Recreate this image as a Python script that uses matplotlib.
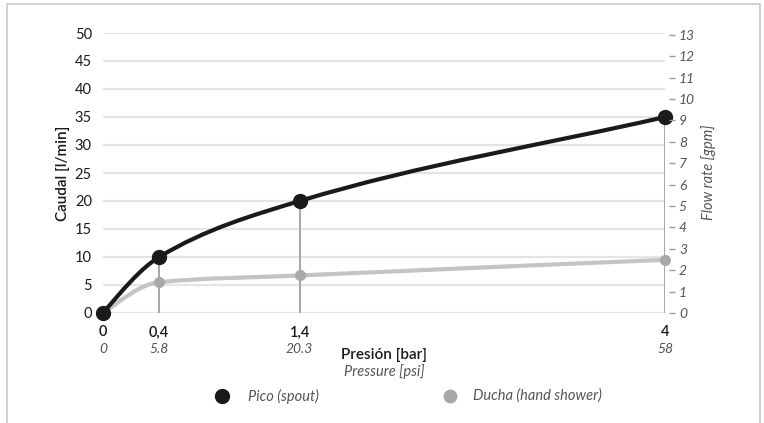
import matplotlib.pyplot as plt
import numpy as np
from matplotlib.path import Path
from matplotlib.patches import PathPatch
from matplotlib.lines import Line2D

plt.rcParams['font.family'] = ['Lato', 'DejaVu Sans']

# data
pressure_bar = [0, 0.4, 1.4, 4]
bar_labels = ['0', '0,4', '1,4', '4']
psi_labels = ['0', '5.8', '20.3', '58']
pico = [0, 10, 20, 35]
ducha = [0, 5.5, 6.7, 9.5]
gpm_ticks = list(range(0, 14))
LPM_PER_GPM = 3.82

BLACK = '#1a1a1a'
GREY_LINE = '#c4c4c4'
GREY_MARK = '#a9a9a9'
GREY_TEXT = '#555555'


def monotone_path(x, y):
    # cubic bezier path through the points (Fritsch-Carlson tangents)
    x = np.asarray(x, float)
    y = np.asarray(y, float)
    h = np.diff(x)
    d = np.diff(y) / h
    m = np.zeros_like(x)
    for k in range(1, len(x) - 1):
        if d[k - 1] * d[k] > 0:
            w1 = 2 * h[k] + h[k - 1]
            w2 = h[k] + 2 * h[k - 1]
            m[k] = (w1 + w2) / (w1 / d[k - 1] + w2 / d[k])
    m[0] = ((2 * h[0] + h[1]) * d[0] - h[0] * d[1]) / (h[0] + h[1])
    m[-1] = d[-1]
    verts = [(x[0], y[0])]
    codes = [Path.MOVETO]
    for i in range(len(h)):
        verts += [(x[i] + h[i] / 3, y[i] + m[i] * h[i] / 3),
                  (x[i + 1] - h[i] / 3, y[i + 1] - m[i + 1] * h[i] / 3),
                  (x[i + 1], y[i + 1])]
        codes += [Path.CURVE4] * 3
    return Path(verts, codes)


fig = plt.figure(figsize=(7.64, 4.23), dpi=100)
W, H = 764, 423
ax = fig.add_axes([103 / W, 1 - 313 / H, (665 - 103) / W, (313 - 33) / H])

# frame around the figure
fig.add_artist(Line2D([7 / W, 7 / W, 760 / W, 760 / W], [0, 1 - 4 / H, 1 - 4 / H, 0],
                      color='#c8c8c8', lw=1.2))

ax.set_xlim(0, 4)
ax.set_ylim(0, 50)
ax.set_yticks(range(0, 51, 5))
ax.grid(axis='y', color='#e4e4e4', lw=1.6)
ax.set_axisbelow(True)
for s in ax.spines.values():
    s.set_visible(False)
ax.tick_params(axis='y', length=0, pad=8, labelsize=10.5, labelcolor=BLACK)
ax.set_xticks(pressure_bar)
ax.set_xticklabels(bar_labels, fontsize=10.5, color=BLACK, fontweight='semibold')
ax.tick_params(axis='x', length=0, pad=9)
for xv, lab in zip(pressure_bar, psi_labels):
    ax.annotate(lab, (xv, 0), xytext=(0, -26), textcoords='offset points',
                ha='center', va='center', fontsize=10, style='italic', color=GREY_TEXT,
                annotation_clip=False)

# vertical drop lines
for xv, yv in zip(pressure_bar[1:], pico[1:]):
    ax.plot([xv, xv], [0, yv], color='#a6a6a6', lw=1.4, zorder=2)

ax.add_patch(PathPatch(monotone_path(pressure_bar, ducha), fill=False,
                       edgecolor=GREY_LINE, lw=3, zorder=3, capstyle='round'))
ax.plot(pressure_bar, ducha, 'o', color=GREY_MARK, ms=7, zorder=4, clip_on=False)
ax.add_patch(PathPatch(monotone_path(pressure_bar, pico), fill=False,
                       edgecolor=BLACK, lw=3, zorder=5, capstyle='round'))
ax.plot(pressure_bar, pico, 'o', color=BLACK, ms=10, zorder=6, clip_on=False)

# right axis in gpm
ax2 = ax.twinx()
ax2.set_ylim(0, 50 / LPM_PER_GPM)
ax2.set_yticks(gpm_ticks)
for s in ax2.spines.values():
    s.set_visible(False)
ax2.spines['right'].set_position(('outward', 3))
ax2.tick_params(axis='y', length=4, width=1, color='#999999', pad=3,
                labelsize=10, labelcolor=GREY_TEXT)
for t in ax2.get_yticklabels():
    t.set_fontstyle('italic')

fig.text(63 / W, 1 - 173 / H, 'Caudal [l/min]', rotation=90, ha='center', va='center',
         fontsize=11, color=BLACK, fontweight='semibold')
fig.text(709 / W, 1 - 172 / H, 'Flow rate [gpm]', rotation=90, ha='center', va='center',
         fontsize=10.5, color=GREY_TEXT, style='italic')
fig.text(384 / W, 1 - 355 / H, 'Presión [bar]', ha='center', va='center',
         fontsize=11, color=BLACK, fontweight='semibold')
fig.text(384 / W, 1 - 372 / H, 'Pressure [psi]', ha='center', va='center',
         fontsize=10.5, color=GREY_TEXT, style='italic')

# legend
fig.add_artist(Line2D([222 / W], [1 - 396 / H], marker='o', ms=10, color=BLACK, lw=0))
fig.text(248 / W, 1 - 396 / H, 'Pico (spout)', ha='left', va='center',
         fontsize=10.5, color=GREY_TEXT, style='italic')
fig.add_artist(Line2D([450 / W], [1 - 396 / H], marker='o', ms=9, color=GREY_MARK, lw=0))
fig.text(473 / W, 1 - 396 / H, 'Ducha (hand shower)', ha='left', va='center',
         fontsize=10.5, color=GREY_TEXT, style='italic')

fig.savefig('out.png', dpi=100)
